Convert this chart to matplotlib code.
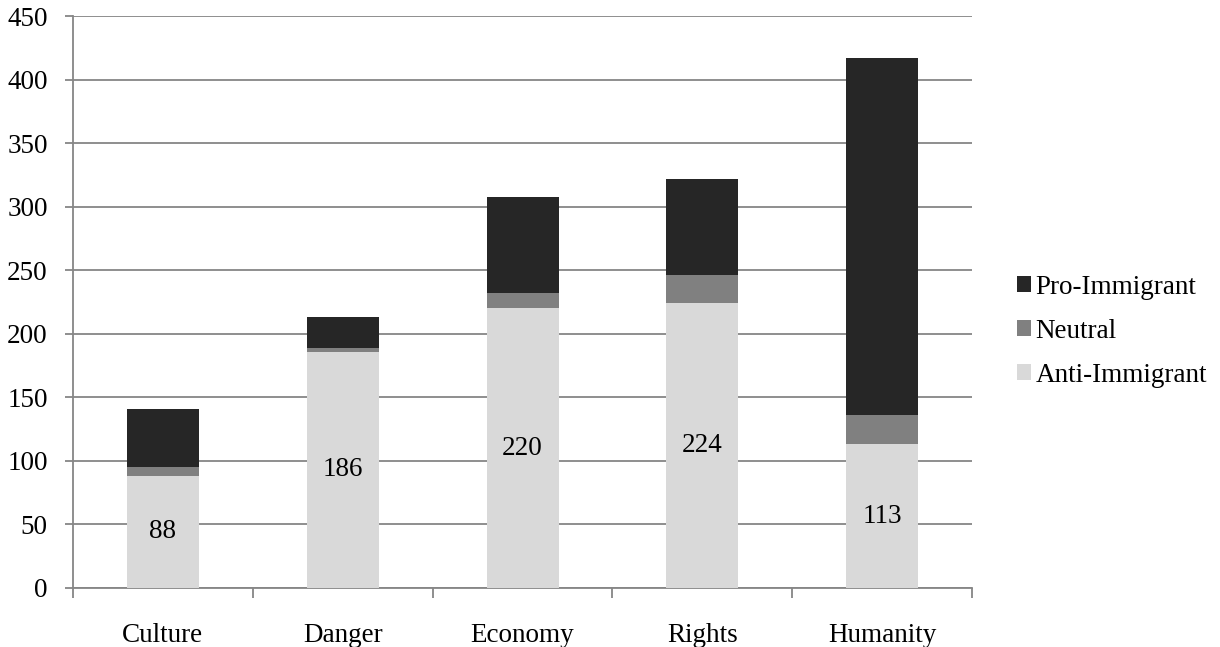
import numpy as np
from matplotlib import pyplot as plt

categories = ['Culture', 'Danger', 'Economy', 'Rights', 'Humanity']
anti = [88, 186, 220, 224, 113]
neutral = [7, 3, 12, 22, 23]
pro = [46, 24, 76, 76, 281]

plt.rcParams['font.family'] = ['Liberation Serif', 'DejaVu Serif']
plt.rcParams['font.size'] = 19.5

grey = '#868686'

fig = plt.figure(figsize=(12.2, 6.47), dpi=100)
ax = fig.add_axes([0.0596, 0.0915, 0.7374, 0.8833])

x = np.arange(len(categories))
anti = np.array(anti)
neutral = np.array(neutral)
pro = np.array(pro)

b_anti = ax.bar(x, anti, width=0.4, color='#d9d9d9', label='Anti-Immigrant', zorder=3)
b_neu = ax.bar(x, neutral, width=0.4, bottom=anti, color='#808080', label='Neutral', zorder=3)
b_pro = ax.bar(x, pro, width=0.4, bottom=anti + neutral, color='#262626', label='Pro-Immigrant', zorder=3)

ax.bar_label(b_anti, labels=[str(v) for v in anti], label_type='center', zorder=4)

ax.set_xlim(-0.5, len(categories) - 0.5)
ax.set_ylim(0, 450)
ax.set_yticks(np.arange(0, 451, 50))
ax.yaxis.grid(True, color=grey, linewidth=1.3, zorder=0)

ax.set_xticks(x)
ax.set_xticklabels(categories)
ax.set_xticks(np.arange(-0.5, len(categories)), minor=True)
ax.tick_params(axis='x', which='major', length=0, pad=25)
ax.tick_params(axis='x', which='minor', length=7, width=1.3, color=grey)
ax.tick_params(axis='y', length=6, width=1.3, color=grey, pad=12)

for s in ['top', 'right']:
    ax.spines[s].set_visible(False)
for s in ['left', 'bottom']:
    ax.spines[s].set_color(grey)
    ax.spines[s].set_linewidth(1.3)

handles = [b_pro, b_neu, b_anti]
ax.legend(handles, [h.get_label() for h in handles], loc='center left',
          bbox_to_anchor=(1.05, 0.449), frameon=False, borderpad=0, borderaxespad=0,
          handlelength=0.52, handleheight=0.52, handletextpad=0.15, labelspacing=0.7)

fig.savefig('out.png', dpi=100)
